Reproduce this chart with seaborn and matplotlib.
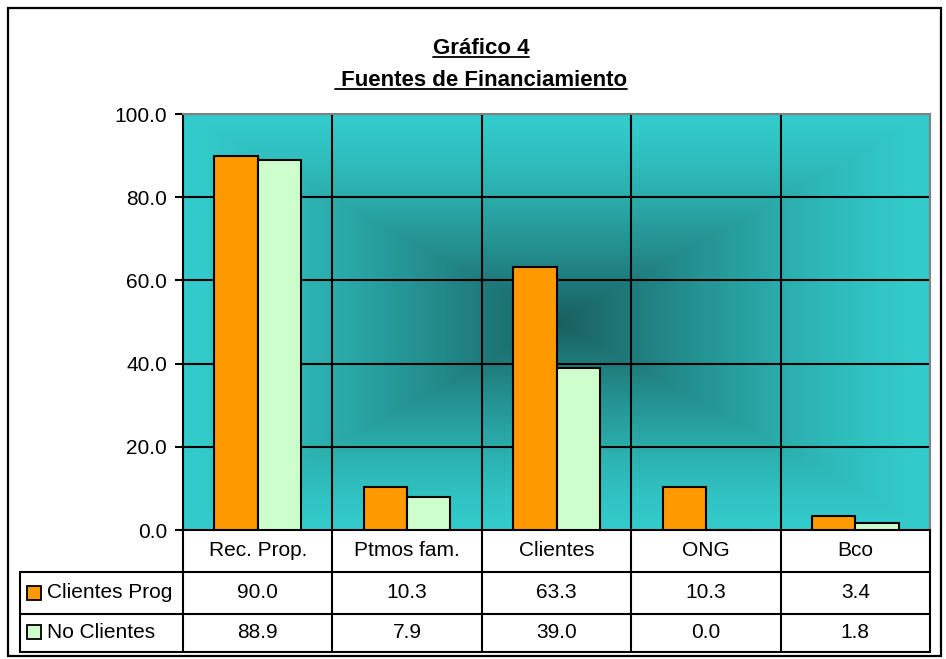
import numpy as np
import pandas as pd
import seaborn as sns
import matplotlib.pyplot as plt
from matplotlib.lines import Line2D
from matplotlib.patches import Rectangle
from matplotlib.transforms import blended_transform_factory

# datos del gráfico
categorias = ['Rec. Prop.', 'Ptmos fam.', 'Clientes', 'ONG', 'Bco']
series = ['Clientes Prog', 'No Clientes']
clientes_prog = [90.0, 10.3, 63.3, 10.3, 3.4]
no_clientes = [88.9, 7.9, 39.0, 0.0, 1.8]
colores = ['#FF9900', '#CCFFCC']

sns.set_style('white')
plt.rcParams['font.family'] = ['Liberation Sans', 'DejaVu Sans']
plt.rcParams['text.color'] = 'black'
plt.rcParams['ytick.color'] = 'black'

df = pd.DataFrame({
    'categoria': categorias * 2,
    'serie': [series[0]] * len(categorias) + [series[1]] * len(categorias),
    'valor': clientes_prog + no_clientes,
})

W, H = 946, 659
fig = plt.figure(figsize=(W / 100, H / 100), dpi=100)

# área de trazado en píxeles
px0, px1, py0, py1 = 183, 930, 114, 530
ax = fig.add_axes([px0 / W, 1 - py1 / H, (px1 - px0) / W, (py1 - py0) / H])

def fx(x):
    return x / W

def fy(y):
    return 1 - y / H

# fondo degradado "desde el centro" (oscuro en el centro, claro en los bordes)
gw, gh = px1 - px0, py1 - py0
xs = np.arange(gw) + 0.5
ys = np.arange(gh) + 0.5
XX, YY = np.meshgrid(xs, ys)
s = np.maximum(np.abs(XX - gw / 2) / (gw / 2), np.abs(YY - gh / 2) / (gh / 2))
t = np.clip(1 - s, 0, 1) ** 1.35
claro = np.array([51, 204, 204]) / 255
oscuro = np.array([24, 94, 94]) / 255
img = claro[None, None, :] * (1 - t[..., None]) + oscuro[None, None, :] * t[..., None]
ax.imshow(img, extent=(-0.5, 4.5, 0, 100), aspect='auto', zorder=0, origin='upper')

sns.barplot(data=df, x='categoria', y='valor', hue='serie', order=categorias,
            hue_order=series, palette=colores, width=0.58, edgecolor='black',
            linewidth=1.5, saturation=1, ax=ax, zorder=3, legend=False)

ax.set_xlim(-0.5, 4.5)
ax.set_ylim(0, 100)
ax.set_xlabel('')
ax.set_ylabel('')
ax.set_xticks([])
ax.set_yticks([0, 20, 40, 60, 80, 100])
ax.set_yticklabels([f'{v:.1f}' for v in [0, 20, 40, 60, 80, 100]], fontsize=15)
ax.tick_params(axis='y', direction='out', length=5.5, width=1.5, pad=6, left=True, colors='black')

for yv in [20, 40, 60, 80]:
    ax.axhline(yv, color='black', lw=1.5, zorder=1)
for i in range(len(categorias) - 1):
    ax.axvline(i + 0.5, color='black', lw=1.5, zorder=1)

for sp in ['top', 'right']:
    ax.spines[sp].set_color('#808080')
    ax.spines[sp].set_linewidth(1.5)
for sp in ['left', 'bottom']:
    ax.spines[sp].set_color('black')
    ax.spines[sp].set_linewidth(1.5)

# tabla de datos
tr = blended_transform_factory(ax.transData, fig.transFigure)
filas_y = [551, 593, 632]
for i, cat in enumerate(categorias):
    ax.text(i, fy(filas_y[0]), cat, transform=tr, ha='center', va='center', fontsize=15)
    ax.text(i, fy(filas_y[1]), f'{clientes_prog[i]:.1f}', transform=tr, ha='center', va='center', fontsize=15)
    ax.text(i, fy(filas_y[2]), f'{no_clientes[i]:.1f}', transform=tr, ha='center', va='center', fontsize=15)

lw_t = 1.5
tab_left, tab_bottom = 20, 652
for yl in [572, 614, tab_bottom]:
    fig.add_artist(Line2D([fx(tab_left), fx(px1)], [fy(yl), fy(yl)], color='black', lw=lw_t))
fig.add_artist(Line2D([fx(tab_left), fx(tab_left)], [fy(572), fy(tab_bottom)], color='black', lw=lw_t))
for xb in [-0.5, 0.5, 1.5, 2.5, 3.5, 4.5]:
    ax.add_line(Line2D([xb, xb], [fy(py1), fy(tab_bottom)], transform=tr, color='black',
                       lw=lw_t, clip_on=False))

# leyenda dentro de la tabla
for j, (nombre, col) in enumerate(zip(series, colores)):
    yc = filas_y[j + 1]
    fig.add_artist(Rectangle((fx(27), fy(yc + 7)), 14 / W, 14 / H, facecolor=col,
                             edgecolor='black', lw=1.3, transform=fig.transFigure))
    fig.text(fx(47), fy(yc), nombre, ha='left', va='center', fontsize=15)

# títulos subrayados
t1 = fig.text(fx(481), fy(54), 'Gráfico 4', ha='center', va='baseline',
              fontsize=16, fontweight='bold')
t2 = fig.text(fx(481), fy(86), ' Fuentes de Financiamiento', ha='center', va='baseline',
              fontsize=16, fontweight='bold')
fig.canvas.draw()
r = fig.canvas.get_renderer()
for txt, yb in [(t1, 54), (t2, 86)]:
    bb = txt.get_window_extent(r)
    fig.add_artist(Line2D([bb.x0 / W, bb.x1 / W], [fy(yb + 3), fy(yb + 3)],
                          color='black', lw=1.3))

# marco exterior
fig.add_artist(Rectangle((fx(8), fy(656)), (941 - 8) / W, (656 - 8) / H, fill=False,
                         edgecolor='black', lw=1.6, transform=fig.transFigure))

fig.savefig('out.png', dpi=100)
